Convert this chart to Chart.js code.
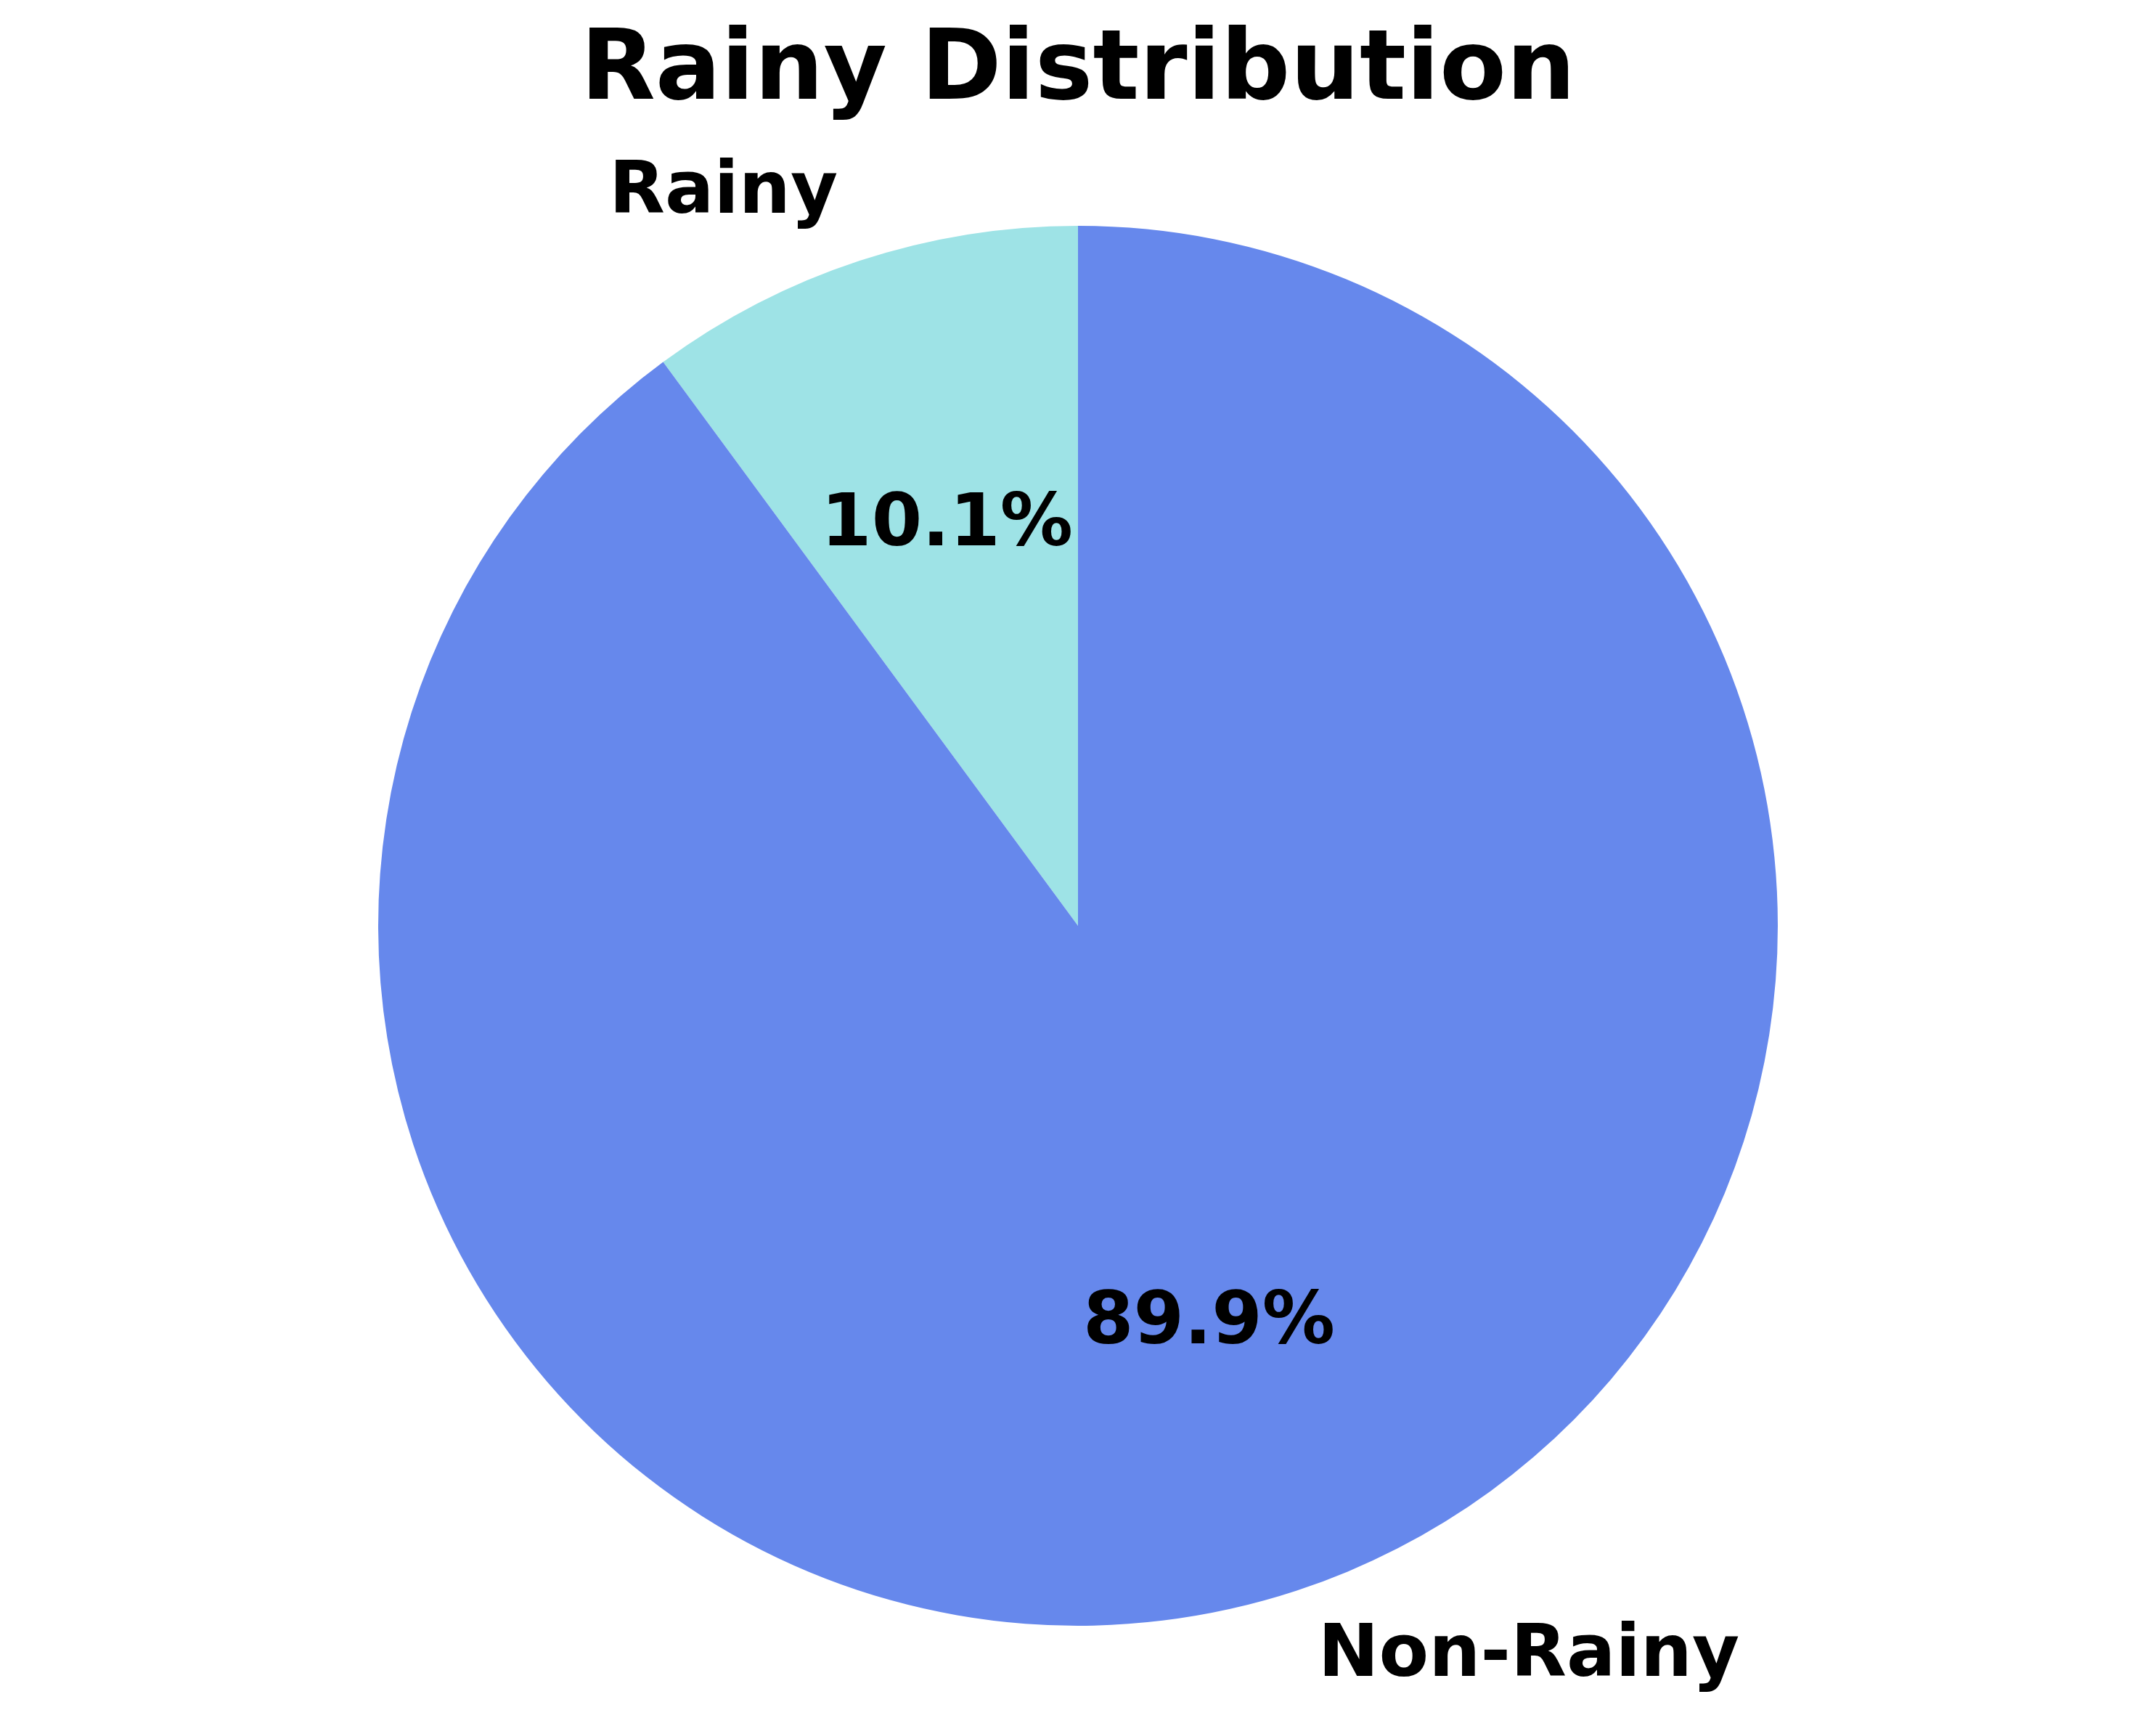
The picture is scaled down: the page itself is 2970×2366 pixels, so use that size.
<!DOCTYPE html>
<html>
<head>
<meta charset="utf-8">
<script src="https://cdn.jsdelivr.net/npm/chart.js@4/dist/chart.umd.min.js"></script>
<style>
  html, body { margin: 0; padding: 0; background: #ffffff; }
  #wrap { width: 2970px; height: 2366px; }
</style>
</head>
<body>
<div id="wrap"><canvas id="c" width="2970" height="2366"></canvas></div>
<script>
const titleText = 'Rainy Distribution';
const categories = ['Rainy', 'Non-Rainy'];
const shares = [10.1, 89.9];
const sliceColors = ['#9EE3E6', '#6688EC'];

const FONT = '"DejaVu Sans", "Liberation Sans", sans-serif';

const pieLabels = {
  id: 'pieLabels',
  afterDatasetsDraw(chart) {
    const ctx = chart.ctx;
    const meta = chart.getDatasetMeta(0);
    const total = shares.reduce((a, b) => a + b, 0);
    ctx.save();
    ctx.fillStyle = '#000000';
    ctx.font = 'bold 100px ' + FONT;
    meta.data.forEach((arc, i) => {
      const p = arc.getProps(['x', 'y', 'startAngle', 'endAngle', 'outerRadius'], true);
      const mid = (p.startAngle + p.endAngle) / 2;
      const c = Math.cos(mid), s = Math.sin(mid);
      // category label at 1.1 r
      const lx = p.x + c * p.outerRadius * 1.1;
      const ly = p.y + s * p.outerRadius * 1.1;
      ctx.textAlign = c < 0 ? 'right' : 'left';
      ctx.textBaseline = 'middle';
      ctx.fillText(categories[i], lx, ly);
      // percentage at 0.6 r
      const px = p.x + c * p.outerRadius * 0.6;
      const py = p.y + s * p.outerRadius * 0.6;
      ctx.textAlign = 'center';
      ctx.textBaseline = 'middle';
      ctx.fillText((shares[i] / total * 100).toFixed(1) + '%', px, py);
    });
    ctx.restore();
  }
};

new Chart(document.getElementById('c'), {
  type: 'pie',
  data: {
    labels: categories,
    datasets: [{
      data: shares,
      backgroundColor: sliceColors,
      borderWidth: 0,
      hoverOffset: 0
    }]
  },
  options: {
    responsive: false,
    animation: false,
    devicePixelRatio: 1,
    rotation: -(shares[0] / (shares[0] + shares[1])) * 360,
    layout: { padding: { left: 521, right: 521, top: 0, bottom: 127 } },
    plugins: {
      legend: { display: false },
      tooltip: { enabled: false },
      title: {
        display: true,
        text: titleText,
        color: '#000000',
        font: { family: FONT, size: 134, weight: 'bold', lineHeight: 1.2 },
        padding: { top: 21, bottom: 129 }
      }
    }
  },
  plugins: [pieLabels]
});
</script>
</body>
</html>
